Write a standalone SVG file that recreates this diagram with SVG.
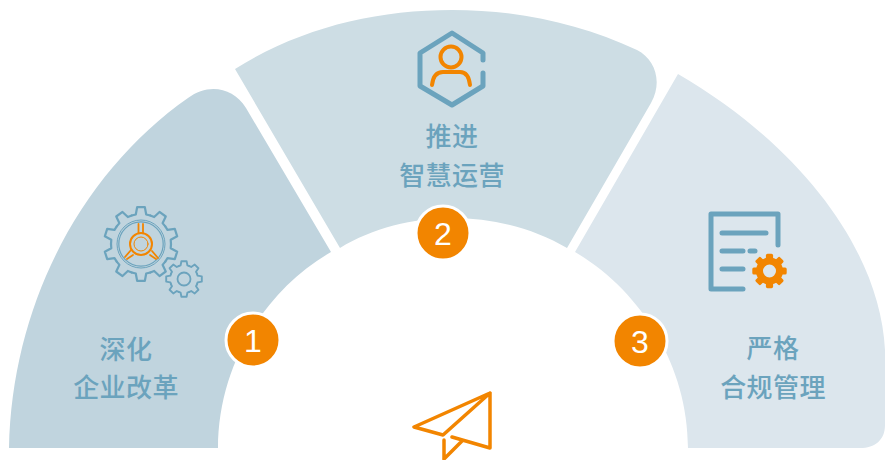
<svg xmlns="http://www.w3.org/2000/svg" xmlns:xlink="http://www.w3.org/1999/xlink" width="885" height="460" viewBox="0 0 885 460">
<style>
.t{font-family:"Noto Sans CJK SC","Noto Sans",sans-serif;font-size:26px;font-weight:500;fill:#6ba3bd;text-anchor:middle;letter-spacing:.4px}
.b{fill:none;stroke:#6ba3bd;stroke-linecap:round;stroke-linejoin:round}
.o{fill:none;stroke:#f28500;stroke-linecap:round;stroke-linejoin:round}
.n{fill:#f28500;stroke:#fff;stroke-width:3}
.d{font-family:"Liberation Sans",Arial,sans-serif;font-size:32px;fill:#fff;text-anchor:middle}
</style>
<defs>
<path id="big-tooth" class="b" stroke-width="2.2" d="M-9.27 -28.53L-5.21 -29.54L-3.87 -36.8H3.87L5.21 -29.54L9.27 -28.53"/>
<path id="small-tooth" class="b" stroke-width="1.9" d="M-5.36 -12.93L-3.4 -13.6L-2.6 -17.8H2.6L3.4 -13.6L5.36 -12.93"/>
<rect id="solid-tooth" x="-3.6" y="-17.2" width="7.2" height="7" rx="1.6" fill="#f28500"/>
</defs>
<rect width="885" height="460" fill="#fff"/>
<g id="sector-1">
<path d="M9 448C12 300 85 170 188 98C208 83 233 87 246 108L331 252C265 290 218 365 218 448Z" fill="#c0d4de"/>
<g id="gears">
<g transform="translate(141 244)">
<use xlink:href="#big-tooth" href="#big-tooth"/>
<use href="#big-tooth" transform="rotate(36)"/>
<use href="#big-tooth" transform="rotate(72)"/>
<use href="#big-tooth" transform="rotate(108)"/>
<use href="#big-tooth" transform="rotate(144)"/>
<use href="#big-tooth" transform="rotate(180)"/>
<use href="#big-tooth" transform="rotate(216)"/>
<use href="#big-tooth" transform="rotate(252)"/>
<use href="#big-tooth" transform="rotate(288)"/>
<use href="#big-tooth" transform="rotate(324)"/>
</g>
<circle cx="141" cy="244" r="24" fill="none" stroke="#6ba3bd" stroke-width="1"/>
<circle cx="141" cy="244" r="22.2" fill="none" stroke="#6ba3bd" stroke-width="1.2"/>
<circle cx="141" cy="244" r="11" class="o" stroke-width="2"/>
<circle cx="141" cy="244" r="7" class="o" stroke-width="1"/>
<path class="o" stroke-width="1.800" d="M138.500 233V224M143 233V224M131 250L125 257M133 255L127 259M152 251L158 258M150 255L156 259"/>
<g transform="translate(184 279)">
<use href="#small-tooth"/>
<use href="#small-tooth" transform="rotate(45)"/>
<use href="#small-tooth" transform="rotate(90)"/>
<use href="#small-tooth" transform="rotate(135)"/>
<use href="#small-tooth" transform="rotate(180)"/>
<use href="#small-tooth" transform="rotate(225)"/>
<use href="#small-tooth" transform="rotate(270)"/>
<use href="#small-tooth" transform="rotate(315)"/>
</g>
<circle cx="184" cy="279" r="6.500" fill="none" stroke="#6ba3bd" stroke-width="1.800"/>
</g>
<text class="t" x="126" y="359">深化</text>
<text class="t" x="126" y="397">企业改革</text>
</g>
<g id="sector-2">
<path d="M235 69C300 28 375 10 452 10C520 10 580 24 637 50C655 59 663 82 651 103L567 248C500 208 405 208 340 248Z" fill="#cddde4"/>
<g id="person-icon">
<path class="b" stroke-width="5" d="M483 60V53L452 33L420 53V86L452 105L483 86V73"/>
<circle cx="451" cy="57" r="10.500" class="o" stroke-width="4"/>
<path class="o" stroke-width="4" d="M432 85C433 76 437 72 443 72H460C466 72 469 76 470 85"/>
</g>
<text class="t" x="452" y="146">推进</text>
<text class="t" x="452" y="185">智慧运营</text>
</g>
<g id="sector-3">
<path d="M678 74C800 145 880 250 885 350V425C885 440 875 448 860 448H688C688 365 640 290 575 252Z" fill="#dce6ed"/>
<g id="doc-icon">
<path class="b" stroke-width="5" d="M778 245V214H711V289H743"/>
<path class="b" stroke-width="5" d="M722 233H766M722 251H743M750 251H755M722 269H743"/>
<g transform="translate(769.500 271)">
<use href="#solid-tooth"/>
<use href="#solid-tooth" transform="rotate(45)"/>
<use href="#solid-tooth" transform="rotate(90)"/>
<use href="#solid-tooth" transform="rotate(135)"/>
<use href="#solid-tooth" transform="rotate(180)"/>
<use href="#solid-tooth" transform="rotate(225)"/>
<use href="#solid-tooth" transform="rotate(270)"/>
<use href="#solid-tooth" transform="rotate(315)"/>
<circle r="10" fill="none" stroke="#f28500" stroke-width="7"/>
</g>
</g>
<text class="t" x="773" y="358">严格</text>
<text class="t" x="773" y="397">合规管理</text>
</g>
<g id="plane">
<path class="o" stroke-width="3.500" d="M490 393L414 427L443 435ZM490 393V448L452 437M444 440V459M444 459L462 441"/>
</g>
<g id="badge-1"><circle class="n" cx="253" cy="340" r="27"/><text class="d" x="253" y="352">1</text></g>
<g id="badge-2"><circle class="n" cx="443" cy="233" r="27"/><text class="d" x="443" y="245">2</text></g>
<g id="badge-3"><circle class="n" cx="640" cy="341" r="27"/><text class="d" x="640" y="353">3</text></g>
<g id="connectors"></g>
</svg>
